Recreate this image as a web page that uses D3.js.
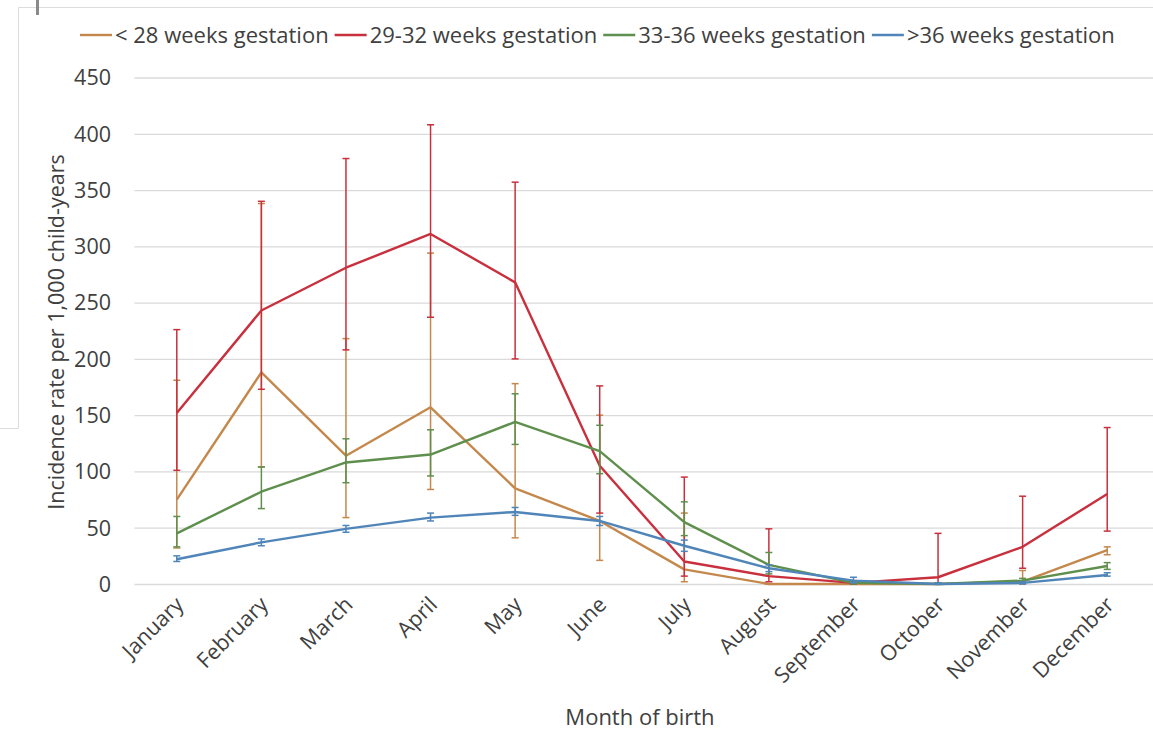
<!DOCTYPE html>
<html>
<head>
<meta charset="utf-8">
<script src="https://cdn.jsdelivr.net/npm/d3@7"></script>
<style>
  body { margin: 0; background: #fff; }
  text { font-family: "Open Sans", sans-serif; fill: #404040; }
</style>
</head>
<body>
<div class="container"></div>
<script>
// month categories and tick values
var months = ['January', 'February', 'March', 'April', 'May', 'June',
  'July', 'August', 'September', 'October', 'November', 'December']
var yTicks = [0, 50, 100, 150, 200, 250, 300, 350, 400, 450]

var seriesNames = ['< 28 weeks gestation', '29-32 weeks gestation', '33-36 weeks gestation', '>36 weeks gestation']
var seriesColors = ['#c4884c', '#c9303d', '#5f8f4d', '#4f85b8']

// incidence rate and error bar ends
var lt28 = [75, 188, 114, 157, 85, 56, 13, 0, 0, 0, 2, 30]
var lt28Lo = [32, 104, 59, 84, 41, 21, 2, 0, 0, 0, 0, 26]
var lt28Hi = [181, 338, 218, 294, 178, 150, 63, 0, 0, 0, 12, 33]

var w2932 = [152, 243, 281, 311, 268, 105, 20, 7, 1, 6, 33, 80]
var w2932Lo = [101, 173, 208, 237, 200, 63, 7, 2, 0, 0, 14, 47]
var w2932Hi = [226, 340, 378, 408, 357, 176, 95, 49, 3, 45, 78, 139]

var w3336 = [45, 82, 108, 115, 144, 118, 55, 17, 1, 0, 3, 16]
var w3336Lo = [33, 67, 90, 96, 124, 98, 43, 9, 0, 0, 1, 13]
var w3336Hi = [60, 104, 129, 137, 169, 141, 73, 28, 2, 1, 5, 19]

var gt36 = [22, 37, 49, 59, 64, 56, 34, 14, 3, 0, 1, 8]
var gt36Lo = [20, 34, 46, 56, 61, 52, 29, 11, 1, 0, 0, 7]
var gt36Hi = [25, 40, 52, 63, 68, 60, 39, 17, 6, 1, 2, 10]

var chart = {
  width: 1153,
  height: 732,
  left: 134.5,
  right: 1149.5,
  top: 77.5,
  bottom: 584,
  font: '21.5px'
}

var series = [
  { name: seriesNames[0], color: seriesColors[0], v: lt28, lo: lt28Lo, hi: lt28Hi },
  { name: seriesNames[1], color: seriesColors[1], v: w2932, lo: w2932Lo, hi: w2932Hi },
  { name: seriesNames[2], color: seriesColors[2], v: w3336, lo: w3336Lo, hi: w3336Hi },
  { name: seriesNames[3], color: seriesColors[3], v: gt36, lo: gt36Lo, hi: gt36Hi }
]

var svg = d3.select('.container').append('svg')
  .attr('width', chart.width)
  .attr('height', chart.height)

// leftover frame edges from the screenshot
svg.append('path')
  .attr('d', 'M1153,7.5H18.5V428.5H0')
  .attr('fill', 'none')
  .attr('stroke', '#dcdcdc')
  .attr('stroke-width', 1)
svg.append('rect')
  .attr('x', 36).attr('y', 0).attr('width', 3).attr('height', 15)
  .attr('fill', '#8a8a8a')

var x = d3.scalePoint()
  .domain(months)
  .range([chart.left, chart.right])
  .padding(0.5)

var y = d3.scaleLinear()
  .domain([0, 450])
  .range([chart.bottom, chart.top])

// gridlines
svg.append('g')
  .attr('transform', 'translate(' + chart.left + ',0)')
  .call(d3.axisLeft(y).tickValues(yTicks).tickSize(-(chart.right - chart.left + 4)).tickFormat(''))
  .call(function (g) { g.select('.domain').remove() })
  .selectAll('line')
  .attr('stroke', '#dadada')
  .attr('stroke-width', 1.3)

// y tick labels
svg.append('g')
  .attr('transform', 'translate(111,0)')
  .call(d3.axisLeft(y).tickValues(yTicks).tickSize(0).tickPadding(0))
  .call(function (g) { g.select('.domain').remove() })
  .selectAll('text')
  .style('font-size', chart.font)
  .style('fill', '#404040')
  .attr('dy', '0.34em')

// x tick labels, rotated
svg.append('g')
  .selectAll('text')
  .data(months)
  .enter().append('text')
  .attr('text-anchor', 'end')
  .attr('transform', function (d) { return 'translate(' + (x(d) + 8) + ',606) rotate(-45)' })
  .style('font-size', chart.font)
  .text(function (d) { return d })

// axis titles
svg.append('text')
  .attr('transform', 'translate(64,332) rotate(-90)')
  .attr('text-anchor', 'middle')
  .style('font-size', chart.font)
  .text('Incidence rate per 1,000 child-years')

svg.append('text')
  .attr('x', 640)
  .attr('y', 725)
  .attr('text-anchor', 'middle')
  .style('font-size', '22px')
  .text('Month of birth')

var line = d3.line()
  .x(function (d, i) { return x(months[i]) })
  .y(function (d) { return y(d) })

series.forEach(function (s) {
  var g = svg.append('g')
  var bars = g.selectAll('g.err').data(months).enter().append('g')
  bars.append('line')
    .attr('x1', function (d) { return x(d) })
    .attr('x2', function (d) { return x(d) })
    .attr('y1', function (d, i) { return y(s.lo[i]) })
    .attr('y2', function (d, i) { return y(s.hi[i]) })
    .attr('stroke', s.color)
    .attr('stroke-width', 1.5)
  bars.append('line')
    .attr('x1', function (d) { return x(d) - 3.5 })
    .attr('x2', function (d) { return x(d) + 3.5 })
    .attr('y1', function (d, i) { return y(s.hi[i]) })
    .attr('y2', function (d, i) { return y(s.hi[i]) })
    .attr('stroke', s.color)
    .attr('stroke-width', 1.5)
  bars.append('line')
    .attr('x1', function (d) { return x(d) - 3.5 })
    .attr('x2', function (d) { return x(d) + 3.5 })
    .attr('y1', function (d, i) { return y(s.lo[i]) })
    .attr('y2', function (d, i) { return y(s.lo[i]) })
    .attr('stroke', s.color)
    .attr('stroke-width', 1.5)
  g.append('path')
    .attr('d', line(s.v))
    .attr('fill', 'none')
    .attr('stroke', s.color)
    .attr('stroke-width', 2.4)
    .attr('stroke-linejoin', 'round')
})

// legend, laid out from the left
var legend = svg.append('g').attr('transform', 'translate(80,35)')
var lx = 0
series.forEach(function (s) {
  legend.append('line')
    .attr('x1', lx).attr('x2', lx + 32)
    .attr('y1', 0).attr('y2', 0)
    .attr('stroke', s.color)
    .attr('stroke-width', 2.4)
  var t = legend.append('text')
    .attr('x', lx + 35)
    .attr('y', 0)
    .attr('dy', '0.35em')
    .style('font-size', '22px')
    .text(s.name)
  lx += 35 + t.node().getComputedTextLength() + 6
})
</script>
</body>
</html>
